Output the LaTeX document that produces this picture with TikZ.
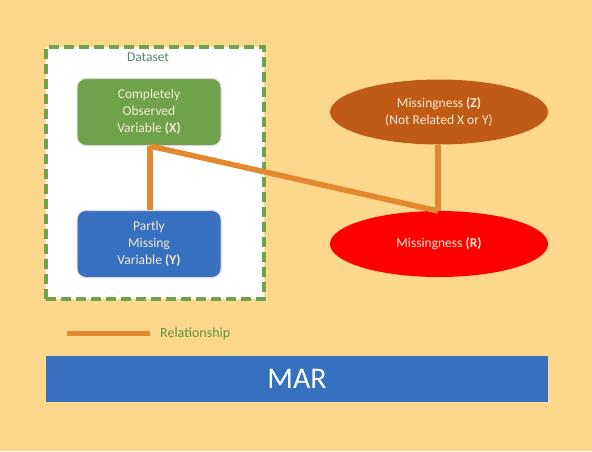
\documentclass[tikz,border=0pt]{standalone}
\usepackage{fontspec}
\setmainfont{Carlito}
\usetikzlibrary{shapes.geometric}
\definecolor{bg}{HTML}{FDD78B}
\definecolor{dgreen}{HTML}{6FA24A}
\definecolor{dblue}{HTML}{3670BF}
\definecolor{zbrown}{HTML}{C05B17}
\definecolor{rel}{HTML}{E2892F}
\definecolor{txt}{HTML}{F4ECD6}
\definecolor{dslabel}{HTML}{4E8A6A}
\begin{document}
\begin{tikzpicture}[x=1pt,y=-1pt,
  varbox/.style={draw=black!15,line width=1pt,rounded corners=9pt,minimum width=144pt,minimum height=67pt,align=center,text=txt,font=\fontsize{13.5}{17}\selectfont},
  mell/.style={ellipse,minimum width=218pt,minimum height=65pt,align=center,text=txt,font=\fontsize{13.5}{17}\selectfont,inner sep=0pt},
  relline/.style={draw=rel,line width=5.5pt}]
\fill[bg] (0,0) rectangle (592,451);
\useasboundingbox (0,0) rectangle (592,451);
% dataset frame
\node[draw=dgreen,fill=white,dash pattern=on 10pt off 5pt,line width=3.5pt,minimum width=218pt,minimum height=252pt,inner sep=0pt] (ds) at (155,173) {};
\node[text=dslabel,font=\fontsize{13.5}{15}\selectfont] (dsl) at (148,57) {Dataset};
\node[varbox,fill=dgreen] (X) at (149,112) {Completely\\Observed\\Variable \textbf{(X)}};
\node[varbox,fill=dblue] (Y) at (149,244) {Partly\\Missing\\Variable \textbf{(Y)}};
\node[mell,fill=zbrown] (Z) at (439,112) {Missingness \textbf{(Z)}\\(Not Related X or Y)};
\node[mell,fill=red,minimum height=66pt] (R) at (439,244) {Missingness \textbf{(R)}};
\coordinate (xb) at (150,146);
\coordinate (rt) at (438,211);
\draw[relline] (xb) -- (Y.north -| xb);
\draw[relline] (xb) -- (rt);
\draw[relline] (Z.south -| rt) -- (rt);
% legend
\coordinate (l1) at (67,333);
\coordinate (l2) at (150,333);
\draw[draw=rel,line width=5pt] (l1) -- (l2);
\node[anchor=west,text=dgreen!90!black,font=\fontsize{14}{16}\selectfont,inner sep=0pt] (lt) at (160,334) {Relationship};
% MAR bar
\node[fill=dblue,minimum width=502pt,minimum height=46pt,inner sep=0pt,text=white,font=\fontsize{30}{32}\selectfont] (mar) at (297,379) {MAR};
\end{tikzpicture}
\end{document}
